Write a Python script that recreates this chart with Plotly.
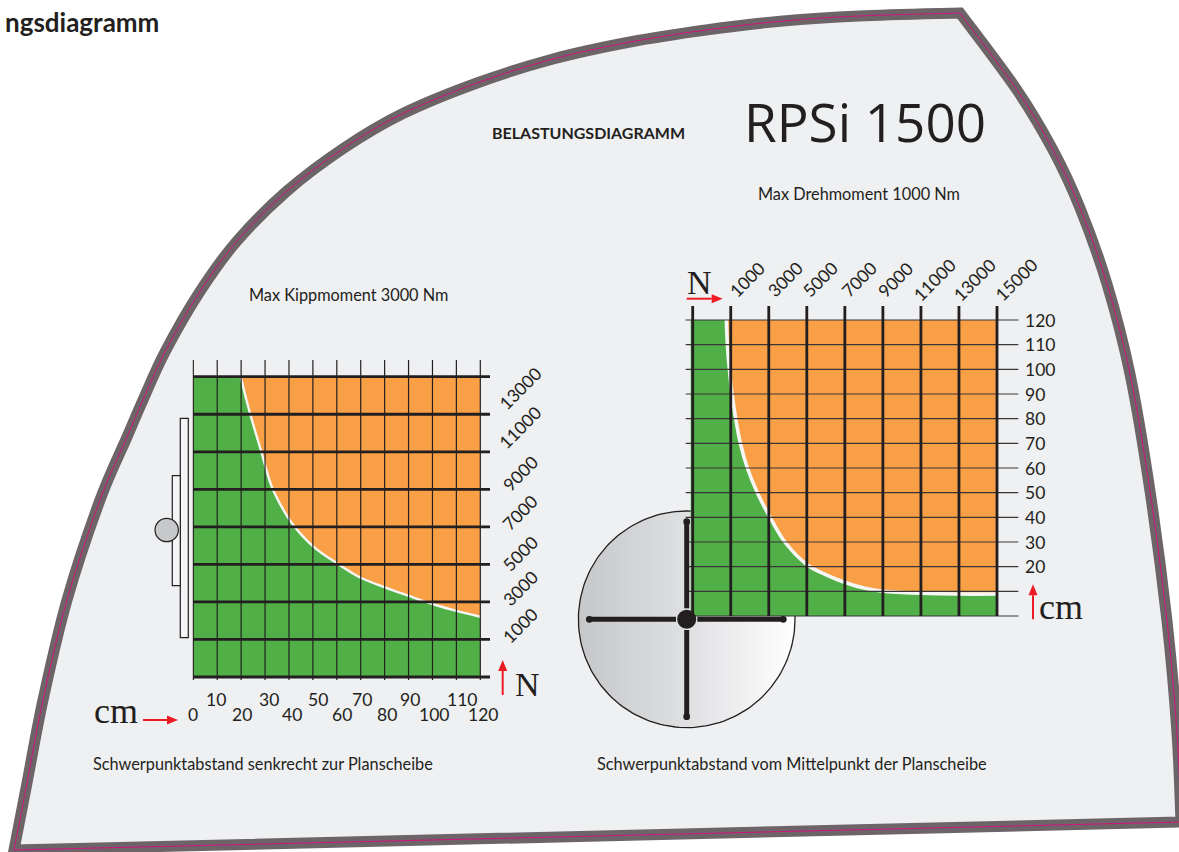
import numpy as np
import plotly.graph_objects as go

# ---------- data ----------
left_cm_ticks = [0, 10, 20, 30, 40, 50, 60, 70, 80, 90, 100, 110, 120]
left_n_ticks = [1000, 3000, 5000, 7000, 9000, 11000, 13000]
left_curve_cm = [19.8, 23.7, 28.2, 32.8, 36.9, 41.8, 50.2, 60.2, 70.0, 80.1, 90.2, 100.0, 110.0, 120.0]
left_curve_n = [15000, 13050, 11100, 9140, 8075, 7100, 5950, 5050, 4290, 3780, 3320, 2890, 2520, 2210]

right_n_ticks = [1000, 3000, 5000, 7000, 9000, 11000, 13000, 15000]
right_cm_ticks = [20, 30, 40, 50, 60, 70, 80, 90, 100, 110, 120]
right_curve_n = [770, 823, 928, 1068, 1261, 1507, 1875, 2400, 3067, 3856, 5030, 6047, 7011, 8063, 9027, 11008, 13006, 15000]
right_curve_cm = [120, 110, 100, 90, 80, 70, 60, 50, 40, 29.9, 20.7, 16.6, 13.6, 11.2, 10.0, 9.2, 8.9, 8.9]

# ---------- styles and page geometry ----------
W, H = 1179, 852
INK = "#231f20"
GREEN = "#50b047"
ORANGE = "#f9a046"
WHITE_LINE = "#f6f6f6"
RED = "#ed1c24"
PANEL = "#eff0f2"
BORDER = "#6d6468"
PINK = "#d4147e"
SANS = "Lato"
SERIF = "Liberation Serif"

def X(x):
    return x / W

def Y(y):
    return 1 - y / H

def lin(p, p0, v0, p1, v1):
    return v0 + (p - p0) * (v1 - v0) / (p1 - p0)

# Smooth outline of the panel
arc_a = [(14, 850), (27, 783), (43, 700), (67, 600), (100, 500), (127, 437), (143, 400), (165, 352), (199, 293),
         (237, 241), (287, 191), (344, 148), (402, 114), (477, 83), (553, 59), (630, 42), (706, 30),
         (783, 21), (859, 16), (960, 13)]
arc_b = [(960, 13), (1017, 90), (1053, 150), (1080, 208), (1107, 284), (1130, 374), (1150, 491),
         (1167, 621), (1177, 733), (1181, 822)]

def smooth(pts):
    out = ""
    n = len(pts)
    for i in range(n - 1):
        p0 = pts[max(i - 1, 0)]
        p1 = pts[i]
        p2 = pts[i + 1]
        p3 = pts[min(i + 2, n - 1)]
        c1 = (p1[0] + (p2[0] - p0[0]) / 6, p1[1] + (p2[1] - p0[1]) / 6)
        c2 = (p2[0] - (p3[0] - p1[0]) / 6, p2[1] - (p3[1] - p1[1]) / 6)
        out += f" C{X(c1[0]):.5f},{Y(c1[1]):.5f} {X(c2[0]):.5f},{Y(c2[1]):.5f} {X(p2[0]):.5f},{Y(p2[1]):.5f}"
    return out

outline = f"M{X(14):.5f},{Y(850):.5f}" + smooth(arc_a) + smooth(arc_b) + " Z"

shapes = [
    dict(type="path", path=outline, xref="paper", yref="paper", layer="below",
         fillcolor=PANEL, line=dict(color=BORDER, width=11)),
    dict(type="path", path=outline, xref="paper", yref="paper", layer="below",
         fillcolor="rgba(0,0,0,0)", line=dict(color=PINK, width=1)),
]

def rect(x0, y0, x1, y1, fill):
    shapes.append(dict(type="rect", xref="paper", yref="paper", x0=X(x0), x1=X(x1), y0=Y(y0), y1=Y(y1),
                       fillcolor=fill, line=dict(color=INK, width=1.2)))

def circle(cx, cy, r, fill, line=None):
    shapes.append(dict(type="circle", xref="paper", yref="paper", x0=X(cx - r), x1=X(cx + r),
                       y0=Y(cy + r), y1=Y(cy - r), fillcolor=fill,
                       line=dict(color=line or fill, width=1.2 if line else 0)))

def seg(x0, y0, x1, y1, color, width):
    shapes.append(dict(type="line", xref="paper", yref="paper", x0=X(x0), x1=X(x1), y0=Y(y0), y1=Y(y1),
                       line=dict(color=color, width=width)))

def arrow(x0, y0, x1, y1):
    dx, dy = x1 - x0, y1 - y0
    L = (dx * dx + dy * dy) ** 0.5
    ux, uy = dx / L, dy / L
    bx, by = x1 - ux * 11, y1 - uy * 11
    seg(x0, y0, bx, by, RED, 2)
    a = (bx - uy * 4.5, by + ux * 4.5)
    b = (bx + uy * 4.5, by - ux * 4.5)
    shapes.append(dict(type="path", xref="paper", yref="paper",
                       path=f"M{X(x1):.5f},{Y(y1):.5f} L{X(a[0]):.5f},{Y(a[1]):.5f} L{X(b[0]):.5f},{Y(b[1]):.5f} Z",
                       fillcolor=RED, line=dict(width=0)))

# Face-plate side view next to the left chart
rect(180.3, 418.3, 188.3, 637.7, "#f3f4f5")
rect(172.3, 475.7, 180.3, 585.7, "#f3f4f5")
circle(166.7, 530, 11.7, "#c7c8ca", INK)

# Spokes of the face plate in the right drawing
HX, HY = 686.7, 619.3
seg(589.3, HY, 676, HY, INK, 5)
seg(697.3, HY, 783.3, HY, INK, 5)
seg(HX, 521.7, HX, 608.3, INK, 5)
seg(HX, 630, HX, 716.7, INK, 5)
for px, py in [(589.3, HY), (783.3, HY), (HX, 521.7), (HX, 716.7)]:
    circle(px, py, 3.4, INK)
circle(HX, HY, 9.5, INK)

arrow(143, 720, 178, 720)
arrow(502.7, 695, 502.7, 660)
arrow(686.7, 298.7, 722.7, 298.7)
arrow(1033, 619.3, 1033, 584.3)

fig = go.Figure()

# ---------- page axes: the disc ----------
theta = np.linspace(0, 2 * np.pi, 181)
fig.add_trace(go.Scatter(
    x=HX + 108.3 * np.cos(theta), y=HY + 108.3 * np.sin(theta), mode="lines", xaxis="x", yaxis="y",
    fill="toself", line=dict(color=INK, width=1.3), hoverinfo="skip",
    fillgradient=dict(type="horizontal", colorscale=[[0, "#c6c7c9"], [0.5, "#dfe0e2"], [1, "#ffffff"]]),
))

# ---------- left chart ----------
LX0, LX1 = 193.3, 480.3     # 0 .. 120 cm
LY0, LY1 = 677.0, 376.7     # -1000 .. 15000 N
lx = lambda p: lin(p, LX0, 0, LX1, 120)
ly = lambda p: lin(p, LY0, -1000, LY1, 15000)
L_TOP, L_BOT, L_RIGHT = ly(360), ly(680), lx(490)

def add_poly(xs, ys, color, xa, ya):
    fig.add_trace(go.Scatter(x=xs, y=ys, mode="lines", fill="toself", fillcolor=color,
                             line=dict(width=0), xaxis=xa, yaxis=ya, hoverinfo="skip"))

def add_line(xs, ys, color, width, xa, ya, shape="linear"):
    fig.add_trace(go.Scatter(x=xs, y=ys, mode="lines", line=dict(color=color, width=width, shape=shape),
                             xaxis=xa, yaxis=ya, hoverinfo="skip", connectgaps=False))

add_poly([0] + left_curve_cm + [120, 0], [15000] + left_curve_n + [-1000, -1000], GREEN, "x2", "y2")
add_poly(left_curve_cm + [120], left_curve_n + [15000], ORANGE, "x2", "y2")
add_line(left_curve_cm, left_curve_n, WHITE_LINE, 2.4, "x2", "y2", "spline")

vx, vy = [], []
for c in left_cm_ticks:
    vx += [c, c, None]
    vy += [L_BOT, L_TOP, None]
add_line(vx, vy, INK, 1.2, "x2", "y2")
hx, hy = [], []
for n in [-1000] + left_n_ticks + [15000]:
    hx += [0, L_RIGHT, None]
    hy += [n, n, None]
add_line(hx, hy, INK, 2.8, "x2", "y2")

# ---------- right chart ----------
RX0, RX1 = 692.7, 997.0     # -1000 .. 15000 N
RY0, RY1 = 616.0, 320.0     # 0 .. 120 cm
rx = lambda p: lin(p, RX0, -1000, RX1, 15000)
ry = lambda p: lin(p, RY0, 0, RY1, 120)
R_LEFT, R_RIGHT, R_TOP = rx(685.7), rx(1018.3), ry(306)
R_FILL = rx(690.7)

add_poly([R_FILL] + right_curve_n + [15000, R_FILL], [120] + right_curve_cm + [0, 0], GREEN, "x3", "y3")
add_poly(right_curve_n + [15000], right_curve_cm + [120], ORANGE, "x3", "y3")
add_line(right_curve_n, right_curve_cm, WHITE_LINE, 3.6, "x3", "y3", "spline")

hx, hy = [], []
for c in [0, 10] + right_cm_ticks:
    hx += [R_LEFT, R_RIGHT, None]
    hy += [c, c, None]
add_line(hx, hy, "#3a3637", 1.2, "x3", "y3")
vx, vy = [], []
for n in [-1000] + right_n_ticks:
    vx += [n, n, None]
    vy += [0, R_TOP, None]
add_line(vx, vy, INK, 2.8, "x3", "y3")

# ---------- text ----------
ann = []

def page_text(x, y, text, size, family=SANS, anchor="left", weight=None, color=INK):
    f = dict(family=family, size=size, color=color)
    if weight:
        f["weight"] = weight
    ann.append(dict(xref="paper", yref="paper", x=X(x), y=Y(y), text=text, showarrow=False,
                    xanchor=anchor, yanchor="middle", font=f))

left_x_shift = [0, -1, 1, 4, 3, 5, 5, 1, 2, 1, 2, 6, 3]
for i, c in enumerate(left_cm_ticks):
    ann.append(dict(xref="x2", yref="paper", x=c, y=Y(699.5 if i % 2 else 714), text=str(c), showarrow=False,
                    xshift=left_x_shift[i], xanchor="center", yanchor="middle",
                    font=dict(family=SANS, size=17.5, color=INK)))
left_y_shift = [14, 13.7, 11, 14, 16, 24, 25.7]
for i, n in enumerate(left_n_ticks):
    ann.append(dict(xref="x2", yref="y2", x=120, y=n, text=str(n), showarrow=False, textangle=-45,
                    xshift=40, yshift=left_y_shift[i], xanchor="center", yanchor="middle",
                    font=dict(family=SANS, size=17.5, color=INK)))
right_x_shift = [16.6, 16.3, 13.3, 14.3, 13, 14, 16, 19.7]
for i, n in enumerate(right_n_ticks):
    ann.append(dict(xref="x3", yref="paper", x=n, y=Y(279.5), text=str(n), showarrow=False, textangle=-45,
                    xshift=right_x_shift[i], xanchor="center", yanchor="middle",
                    font=dict(family=SANS, size=17.5, color=INK)))
for c in right_cm_ticks:
    ann.append(dict(xref="paper", yref="y3", x=X(1023), y=c, text=str(c), showarrow=False,
                    xanchor="left", yanchor="middle", font=dict(family=SANS, size=17.5, color=INK)))

page_text(161, 22, "ngsdiagramm", 26, anchor="right", weight=700)
page_text(489.5, 133, "BELASTUNGSDIAGRAMM", 16, weight=700)
page_text(742, 122, "RPSi 1500", 53, family="Open Sans")
page_text(756, 193, "Max Drehmoment 1000 Nm", 16.3)
page_text(247, 295, "Max Kippmoment 3000 Nm", 16.3)
page_text(91, 763, "Schwerpunktabstand senkrecht zur Planscheibe", 16.3)
page_text(595, 763, "Schwerpunktabstand vom Mittelpunkt der Planscheibe", 16.3)
page_text(92, 711, "cm", 36, family=SERIF)
page_text(1037, 607, "cm", 36, family=SERIF)
page_text(513, 684, "N", 34, family=SERIF)
page_text(685, 282, "N", 34, family=SERIF)

def hidden(domain, rng):
    return dict(domain=domain, range=rng, visible=False, fixedrange=True, showgrid=False, zeroline=False)

fig.update_layout(
    width=W, height=H, autosize=False, margin=dict(l=0, r=0, t=0, b=0, pad=0),
    paper_bgcolor="#ffffff", plot_bgcolor="rgba(0,0,0,0)", showlegend=False, hovermode=False,
    xaxis=hidden([0, 1], [0, W]),
    yaxis=hidden([0, 1], [H, 0]),
    xaxis2=dict(hidden([X(LX0 - 1), X(491)], [lx(LX0 - 1), lx(491)]), anchor="y2"),
    yaxis2=dict(hidden([Y(682), Y(359)], [ly(682), ly(359)]), anchor="x2"),
    xaxis3=dict(hidden([X(685), X(1019)], [rx(685), rx(1019)]), anchor="y3"),
    yaxis3=dict(hidden([Y(617), Y(305)], [ry(617), ry(305)]), anchor="x3"),
    shapes=shapes, annotations=ann,
)

fig.write_html("out.html", config=dict(displayModeBar=False),
               post_script="document.body.style.margin='0';document.body.style.overflow='hidden';")
